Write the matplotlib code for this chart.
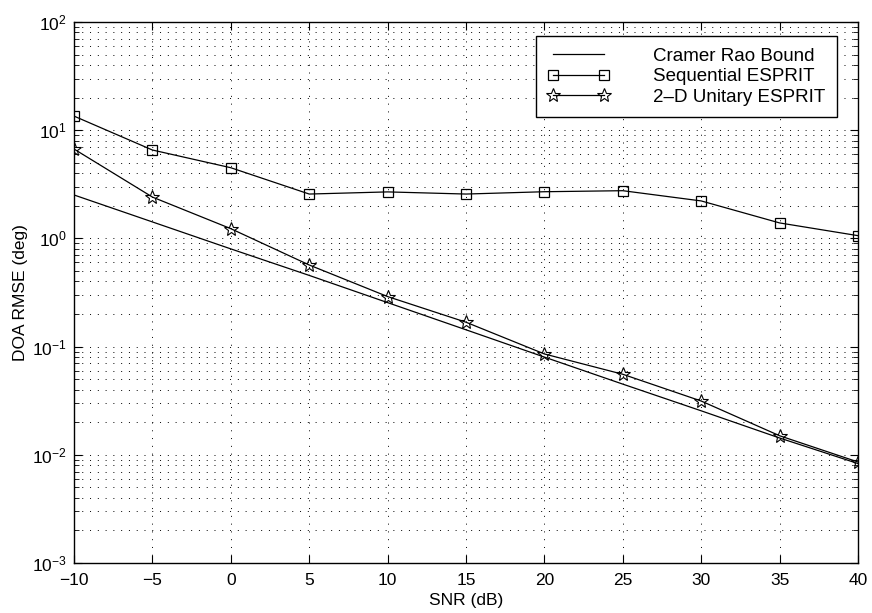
import matplotlib
matplotlib.use("Agg")
import matplotlib.pyplot as plt
from matplotlib.ticker import LogLocator, NullFormatter, MultipleLocator

plt.rcParams["font.family"] = ["Liberation Sans", "DejaVu Sans"]
plt.rcParams["mathtext.fontset"] = "custom"
plt.rcParams["mathtext.rm"] = "Liberation Sans"
plt.rcParams["mathtext.it"] = "Liberation Sans:italic"
plt.rcParams["mathtext.bf"] = "Liberation Sans:bold"
plt.rcParams["mathtext.default"] = "regular"

# SNR grid (dB) and RMSE of the DOA estimates (degrees)
snr_db = [-10, -5, 0, 5, 10, 15, 20, 25, 30, 35, 40]
crb = [2.52, 1.42, 0.80, 0.455, 0.255, 0.143, 0.080, 0.045, 0.0255, 0.0143, 0.0083]
sequential_esprit = [13.5, 6.56, 4.5, 2.57, 2.69, 2.57, 2.70, 2.76, 2.22, 1.39, 1.06]
unitary_esprit_2d = [6.7, 2.41, 1.23, 0.568, 0.29, 0.168, 0.0855, 0.0555, 0.0314, 0.0150, 0.00858]

series_labels = ["Cramer Rao Bound", "Sequential ESPRIT", "2\u2013D Unitary ESPRIT"]
x_label = "SNR (dB)"
y_label = "DOA RMSE (deg)"

fig = plt.figure(figsize=(8.72, 6.13), dpi=100)
ax = fig.add_axes([74 / 872, 1 - 563 / 613, (858 - 74) / 872, (563 - 22) / 613])

line_kw = dict(color="black", linewidth=0.9)
ax.semilogy(snr_db, crb, label=series_labels[0], **line_kw)
ax.semilogy(snr_db, sequential_esprit, label=series_labels[1], marker="s",
            markersize=7, markerfacecolor="none", markeredgecolor="black",
            markeredgewidth=0.9, **line_kw)
ax.semilogy(snr_db, unitary_esprit_2d, label=series_labels[2], marker="*",
            markersize=10, markerfacecolor="none", markeredgecolor="black",
            markeredgewidth=0.8, **line_kw)

ax.set_xlim(-10, 40)
ax.set_ylim(1e-3, 1e2)
ax.xaxis.set_major_locator(MultipleLocator(5))
ax.yaxis.set_major_locator(LogLocator(base=10, numticks=10))
ax.yaxis.set_minor_locator(LogLocator(base=10, subs=range(2, 10), numticks=20))
ax.yaxis.set_minor_formatter(NullFormatter())

ax.tick_params(which="both", direction="in", top=True, right=True,
               labelsize=12.5, colors="black")
ax.tick_params(which="major", length=6, width=0.8)
ax.tick_params(axis="x", which="major", pad=7)
ax.tick_params(axis="y", which="major", pad=5)
ax.tick_params(which="minor", length=3.5, width=0.6)

grid_style = dict(color="black", linestyle=(0, (1, 7)), linewidth=0.7)
ax.grid(True, which="major", axis="both", **grid_style)
ax.grid(True, which="minor", axis="y", **grid_style)

for spine in ax.spines.values():
    spine.set_linewidth(1.0)

ax.set_xlabel(x_label, fontsize=12.5, labelpad=4)
ax.set_ylabel(y_label, fontsize=12.5, labelpad=3)

leg = ax.legend(loc="upper left", bbox_to_anchor=(536 / 872, 1 - 36 / 613),
                bbox_transform=fig.transFigure, fontsize=13.5, numpoints=2,
                frameon=True, fancybox=False, edgecolor="black",
                framealpha=1.0, borderpad=0.62, labelspacing=0.18,
                handlelength=3.3, handletextpad=2.3, borderaxespad=0)
leg.get_frame().set_linewidth(1.0)

fig.savefig("out.png", dpi=100)
